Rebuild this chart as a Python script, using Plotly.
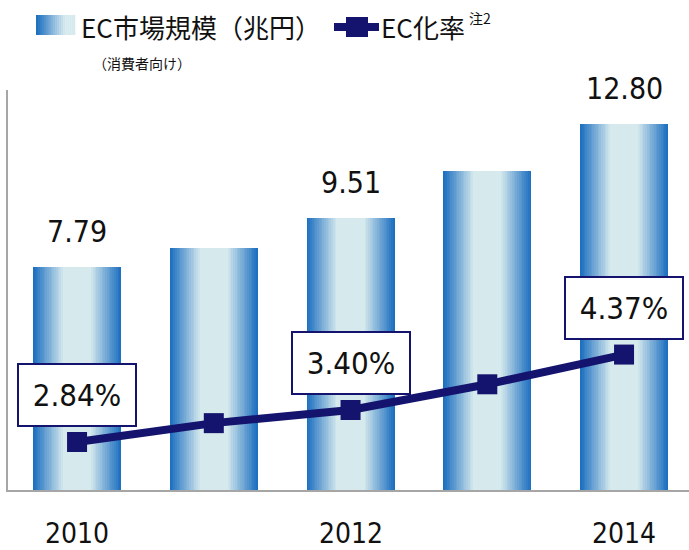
import plotly.graph_objects as go

# data
years = [2010, 2011, 2012, 2013, 2014]
market_size = [7.79, 8.46, 9.51, 11.16, 12.80]   # EC市場規模（兆円）
ec_rate = [2.84, 3.17, 3.40, 3.85, 4.37]         # EC化率 (%)
labelled_years = [2010, 2012, 2014]

NAVY = "#14146e"
FONT = "DejaVu Sans Condensed"
CJK = "Noto Sans CJK JP"

edge = (30, 112, 192)
center = (214, 234, 238)


def mix(t):
    return "rgb(%d,%d,%d)" % tuple(round(a + (b - a) * t) for a, b in zip(edge, center))


fig = go.Figure()

# gradient bars: stacked layers of narrowing, lightening bars
n_layers = 18
full_w = 0.643
for k in range(n_layers):
    t = k / (n_layers - 1)
    fig.add_trace(go.Bar(x=years, y=market_size, width=full_w * (1 - 0.68 * t),
                         marker=dict(color=mix(t), line=dict(width=0)),
                         showlegend=False, hoverinfo="skip"))

fig.add_trace(go.Scatter(x=years, y=ec_rate, yaxis="y2", mode="lines+markers",
                         line=dict(color=NAVY, width=8),
                         marker=dict(symbol="square", size=20, color=NAVY),
                         showlegend=False))

# value labels above bars
for yr, v in zip(years, market_size):
    if yr in labelled_years:
        fig.add_annotation(x=yr, y=v, xref="x", yref="y", text="%.2f" % v,
                           showarrow=False, yanchor="bottom", yshift=16,
                           font=dict(family=FONT, size=30, color="#111111"))

# boxed percentage labels above line points
for yr, r in zip(years, ec_rate):
    if yr in labelled_years:
        fig.add_annotation(x=yr, y=r, xref="x", yref="y2", text="%.2f%%" % r,
                           showarrow=False, yshift=47, width=114, height=58,
                           bordercolor=NAVY, borderwidth=2, bgcolor="white",
                           font=dict(family=FONT, size=31, color="#111111"))

# year labels under the axis
for yr in labelled_years:
    fig.add_annotation(x=yr, y=0, xref="x", yref="y", text=str(yr),
                       showarrow=False, yanchor="middle", yshift=-43,
                       font=dict(family=FONT, size=28, color="#111111"))


# legend (drawn by hand)
def px(x):
    return (x - 8) / 681


def py(y):
    return (490 - y) / 400


steps = 20
for i in range(steps):
    t = i / (steps - 1)
    x0 = 36 + 39 * i / steps
    fig.add_shape(type="rect", xref="paper", yref="paper",
                  x0=px(x0), x1=px(x0 + 39 / steps + 0.3), y0=py(35), y1=py(15),
                  fillcolor=mix(min(1, t * 1.3)), line=dict(width=0))
fig.add_annotation(xref="paper", yref="paper", x=px(79), y=py(26),
                   xanchor="left", yanchor="middle",
                   text="EC市場規模（兆円）", showarrow=False,
                   font=dict(family=CJK, size=26, color="#111111"))
fig.add_annotation(xref="paper", yref="paper", x=px(142), y=py(63),
                   xanchor="center", yanchor="middle",
                   text="（消費者向け）", showarrow=False,
                   font=dict(family=CJK, size=14, color="#111111"))
fig.add_shape(type="line", xref="paper", yref="paper", x0=px(334), x1=px(379),
              y0=py(27), y1=py(27), line=dict(color=NAVY, width=8))
fig.add_shape(type="rect", xref="paper", yref="paper", x0=px(346), x1=px(368),
              y0=py(37), y1=py(17), fillcolor=NAVY, line=dict(width=0))
fig.add_annotation(xref="paper", yref="paper", x=px(379), y=py(26),
                   xanchor="left", yanchor="middle",
                   text="EC化率", showarrow=False,
                   font=dict(family=CJK, size=26, color="#111111"))
fig.add_annotation(xref="paper", yref="paper", x=px(467), y=py(18),
                   xanchor="left", yanchor="middle",
                   text="注2", showarrow=False,
                   font=dict(family=CJK, size=14, color="#111111"))

fig.update_layout(
    width=689, height=550,
    margin=dict(l=8, r=0, t=90, b=60, autoexpand=False),
    barmode="overlay", bargap=0,
    plot_bgcolor="white", paper_bgcolor="white",
    xaxis=dict(range=[2009.495, 2014.475], showticklabels=False, showgrid=False,
               zeroline=False, showline=True, linecolor="#a6a6a6", linewidth=2,
               ticks="", automargin=False),
    yaxis=dict(range=[0, 14], showgrid=False, zeroline=False, showline=True,
               linecolor="#a6a6a6", linewidth=2, showticklabels=False, ticks="",
               automargin=False),
    yaxis2=dict(range=[2, 9], overlaying="y", side="right", showgrid=False,
                zeroline=False, showline=False, showticklabels=False, ticks="",
                automargin=False),
)

fig.write_html("out.html", config={"displayModeBar": False},
               post_script="document.body.style.margin='0';")
